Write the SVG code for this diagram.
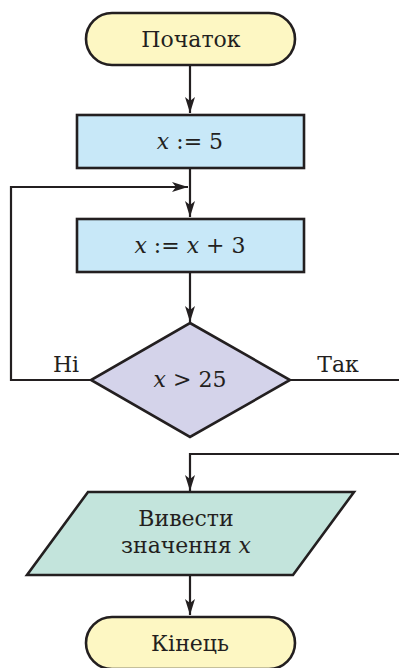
<svg xmlns="http://www.w3.org/2000/svg" width="399" height="668" viewBox="0 0 399 668">
<defs>
<style>
.shape{stroke:#231f20;stroke-width:2.6;stroke-linejoin:miter}
.term{fill:#fdf7c3}
.proc{fill:#c8e8f8}
.dec{fill:#d4d3ea}
.io{fill:#c3e4dc}
.conn{fill:none;stroke:#231f20;stroke-width:2.2}
text{font-family:"DejaVu Serif","Liberation Serif",serif;font-size:22px;fill:#231f20;text-anchor:middle}
.it{font-style:italic}
</style>
<marker id="arr" viewBox="0 0 16 10" refX="16" refY="5" markerWidth="16" markerHeight="10" markerUnits="userSpaceOnUse" orient="auto">
<path d="M0,0 L16,5 L0,10 L4,5 Z" fill="#231f20"/>
</marker>
</defs>
<g id="connectors">
<line class="conn" x1="190" y1="65" x2="190" y2="113" marker-end="url(#arr)"/>
<line class="conn" x1="190" y1="168" x2="190" y2="217" marker-end="url(#arr)"/>
<line class="conn" x1="190" y1="272" x2="190" y2="322" marker-end="url(#arr)"/>
<polyline class="conn" points="91,380 11,380 11,187 188,187" marker-end="url(#arr)"/>
<line class="conn" x1="290" y1="380" x2="400" y2="380"/>
<polyline class="conn" points="400,454 190,454 190,491" marker-end="url(#arr)"/>
<line class="conn" x1="190" y1="575" x2="190" y2="615" marker-end="url(#arr)"/>
<text x="66" y="372">Ні</text>
<text x="338" y="372">Так</text>
</g>
<g id="start">
<rect class="shape term" x="86" y="13" width="209" height="52" rx="26" ry="26"/>
<text x="191" y="47">Початок</text>
</g>
<g id="assign1">
<rect class="shape proc" x="77" y="115" width="227" height="53"/>
<text x="190" y="149"><tspan class="it">x</tspan> := 5</text>
</g>
<g id="assign2">
<rect class="shape proc" x="77" y="219" width="227" height="53"/>
<text x="190" y="253"><tspan class="it">x</tspan> := <tspan class="it">x</tspan> + 3</text>
</g>
<g id="decision">
<polygon class="shape dec" points="190,323 290,380 190,437 91,380"/>
<text x="190" y="387"><tspan class="it">x</tspan> &gt; 25</text>
</g>
<g id="output">
<polygon class="shape io" points="88,492 354,492 293,575 27,575"/>
<text x="186" y="526">Вивести</text>
<text x="186" y="553">значення <tspan class="it">x</tspan></text>
</g>
<g id="end">
<rect class="shape term" x="86" y="617" width="209" height="52" rx="26" ry="26"/>
<text x="190" y="651">Кінець</text>
</g>
</svg>
